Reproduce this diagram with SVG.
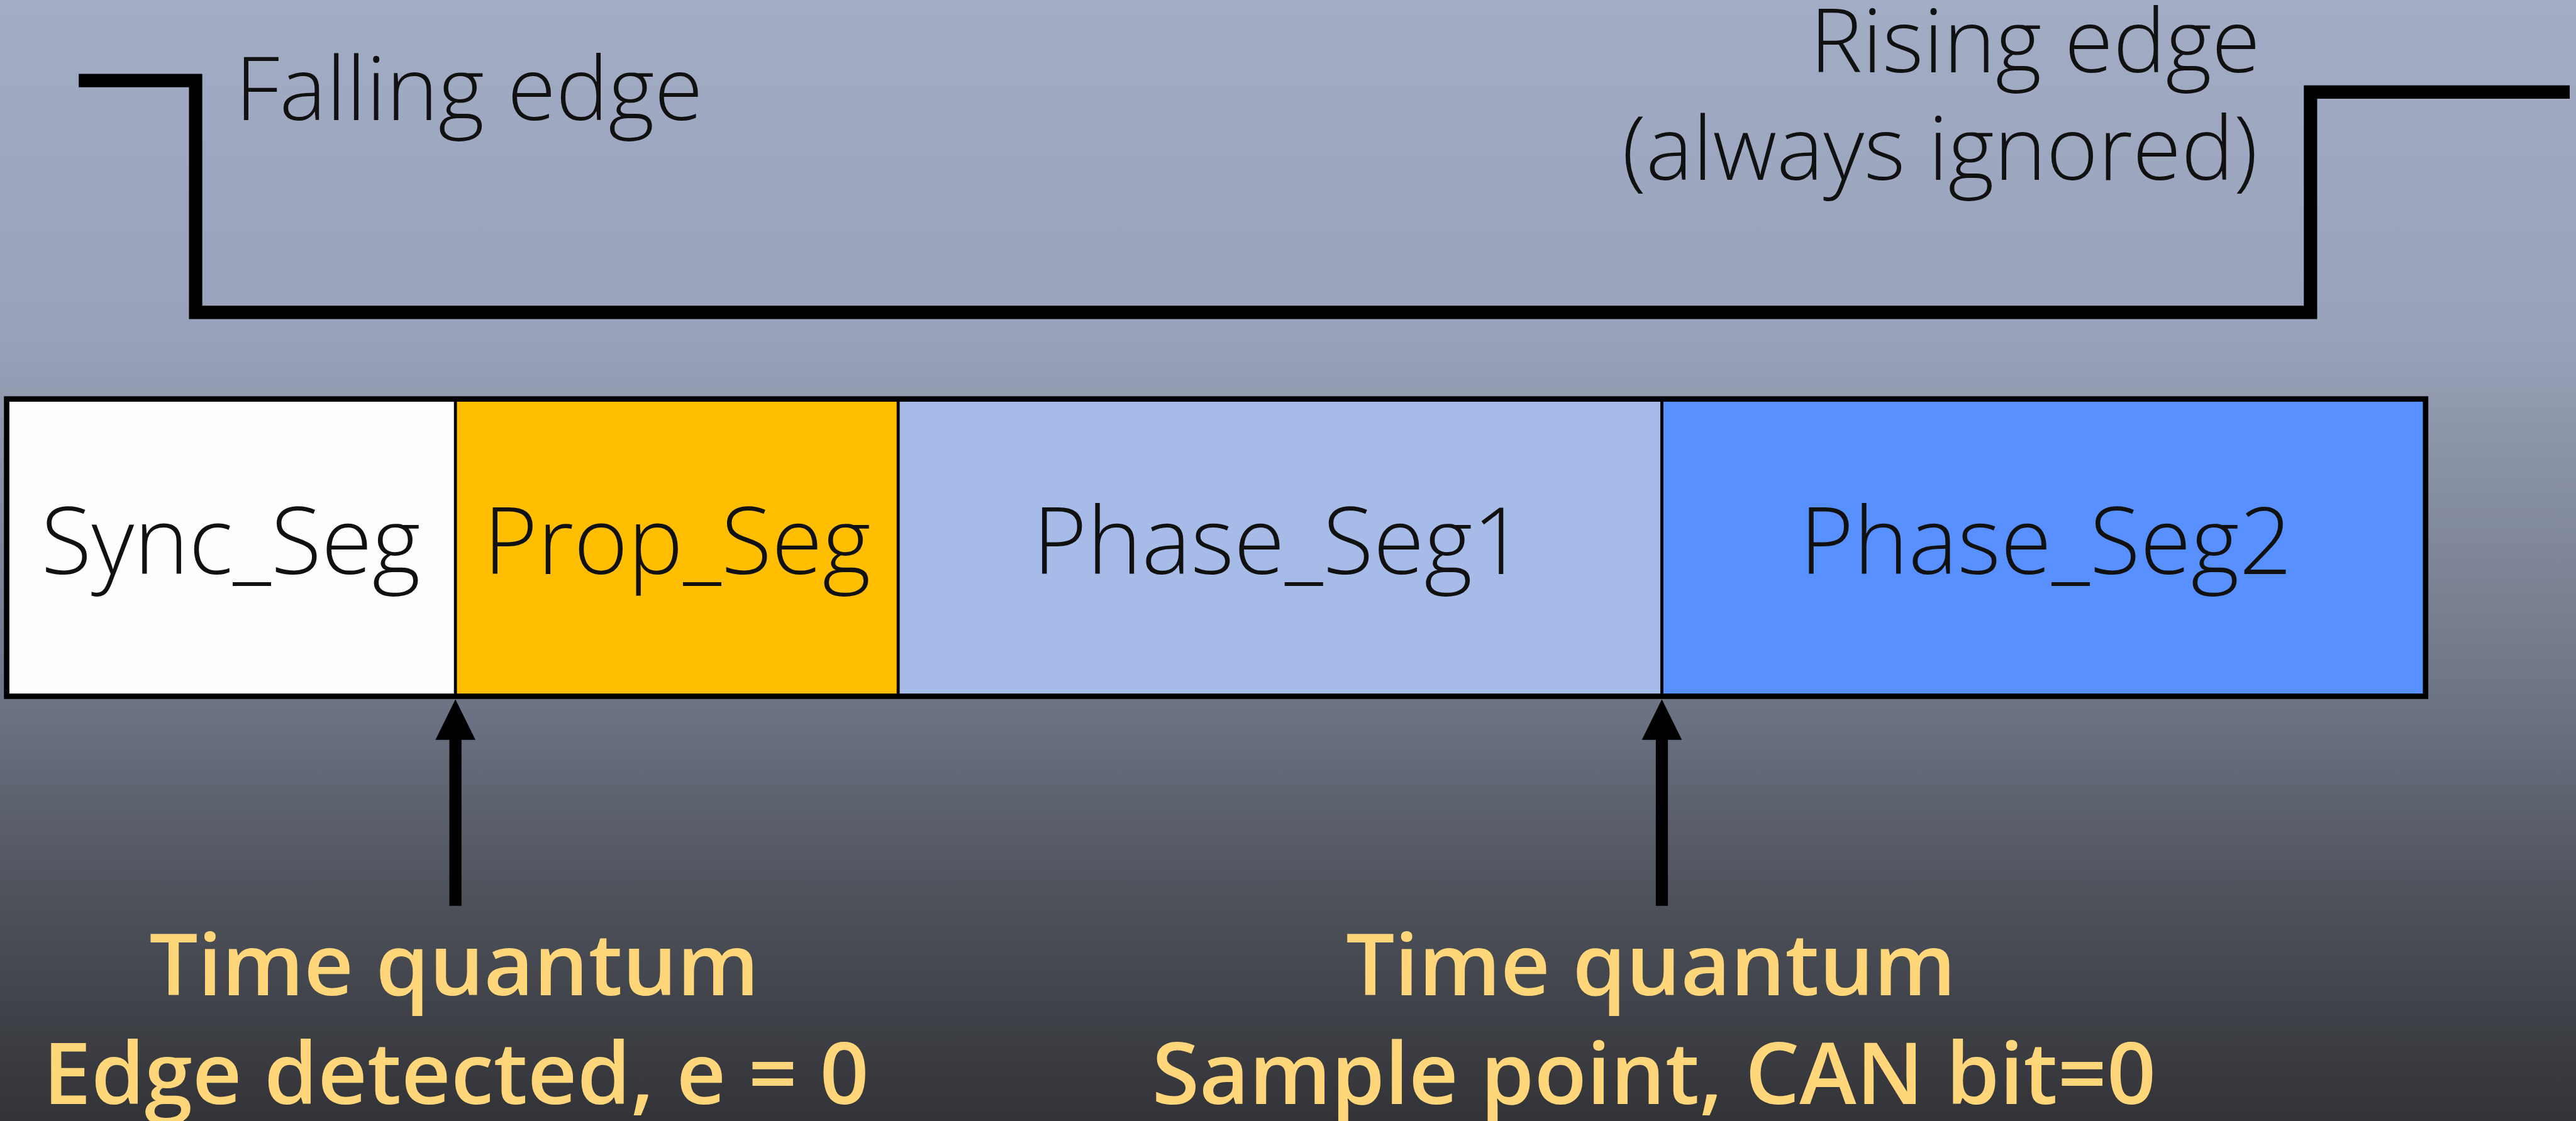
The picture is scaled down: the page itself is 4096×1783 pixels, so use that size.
<svg xmlns="http://www.w3.org/2000/svg" width="4096" height="1783" viewBox="0 0 4096 1783">
  <defs>
    <linearGradient id="bg" x1="0" y1="0" x2="0" y2="1">
      <stop offset="0" stop-color="#A2ACC4"/>
      <stop offset="0.30" stop-color="#98A2BA"/>
      <stop offset="0.36" stop-color="#9199AE"/>
      <stop offset="0.63" stop-color="#6C7383"/>
      <stop offset="0.80" stop-color="#4E525B"/>
      <stop offset="1" stop-color="#323337"/>
    </linearGradient>
    <marker id="head" markerUnits="userSpaceOnUse" markerWidth="70" markerHeight="70" viewBox="0 -35 70 70" refX="0" refY="0" orient="auto" overflow="visible">
      <path d="M-2,-33 L65,0 L-2,33 z" fill="#000"/>
    </marker>
    <style>
      .thin { font-family: "Open Sans", "Noto Sans", "Liberation Sans", sans-serif; font-weight: 300; fill: #111; }
      .top { font-size: 146px; }
      .seg { font-size: 153px; text-anchor: middle; }
      .note { font-family: "Open Sans", "Noto Sans", "Liberation Sans", sans-serif; font-weight: 600; font-size: 142px; fill: #FFD77A; text-anchor: middle; }
      .wave { fill: none; stroke: #000; stroke-width: 22; stroke-linejoin: miter; }
      .divider { stroke: #000; stroke-width: 5; }
      .frame { fill: none; stroke: #000; stroke-width: 9; }
      .arrow { stroke: #000; stroke-width: 20; marker-end: url(#head); }
    </style>
  </defs>

  <rect x="0" y="0" width="4096" height="1783" fill="url(#bg)"/>

  <g transform="scale(0.963)">
    <!-- bus level waveform -->
    <g id="waveform">
      <path class="wave" d="M130,133 H323 V516 H3815 V152 H4243"/>
      <text class="thin top" x="388" y="198">Falling edge</text>
      <text class="thin top" x="3732" y="119" text-anchor="end">Rising edge</text>
      <text class="thin top" x="3728" y="297" text-anchor="end">(always ignored)</text>
    </g>

    <!-- bit time segments -->
    <g id="sync_seg">
      <rect x="11" y="659" width="741" height="491" fill="#FFFDFF"/>
      <text class="thin seg" x="381" y="948">Sync_Seg</text>
    </g>
    <g id="prop_seg">
      <rect x="752" y="659" width="731" height="491" fill="#FFBE00"/>
      <text class="thin seg" x="1118" y="948">Prop_Seg</text>
    </g>
    <g id="phase_seg1">
      <rect x="1483" y="659" width="1261" height="491" fill="#A6BBE8"/>
      <text class="thin seg" x="2112" y="948">Phase_Seg1</text>
    </g>
    <g id="phase_seg2">
      <rect x="2744" y="659" width="1261" height="491" fill="#5890FF"/>
      <text class="thin seg" x="3378" y="948" fill="#0B1530">Phase_Seg2</text>
    </g>
    <g id="segment_borders">
      <line class="divider" x1="752" y1="659" x2="752" y2="1150"/>
      <line class="divider" x1="1483" y1="659" x2="1483" y2="1150"/>
      <line class="divider" x1="2744" y1="659" x2="2744" y2="1150"/>
      <rect class="frame" x="11" y="659" width="3994" height="491"/>
    </g>

    <!-- pointers to time quanta -->
    <g id="connectors">
      <line class="arrow" x1="752" y1="1496" x2="752" y2="1220"/>
      <line class="arrow" x1="2744" y1="1496" x2="2744" y2="1220"/>
    </g>

    <g id="label_edge">
      <text class="note" x="750" y="1644">Time quantum</text>
      <text class="note" x="753" y="1823">Edge detected, e = 0</text>
    </g>
    <g id="label_sample">
      <text class="note" x="2726" y="1644">Time quantum</text>
      <text class="note" x="2731" y="1823">Sample point, CAN bit=0</text>
    </g>
  </g>
</svg>
